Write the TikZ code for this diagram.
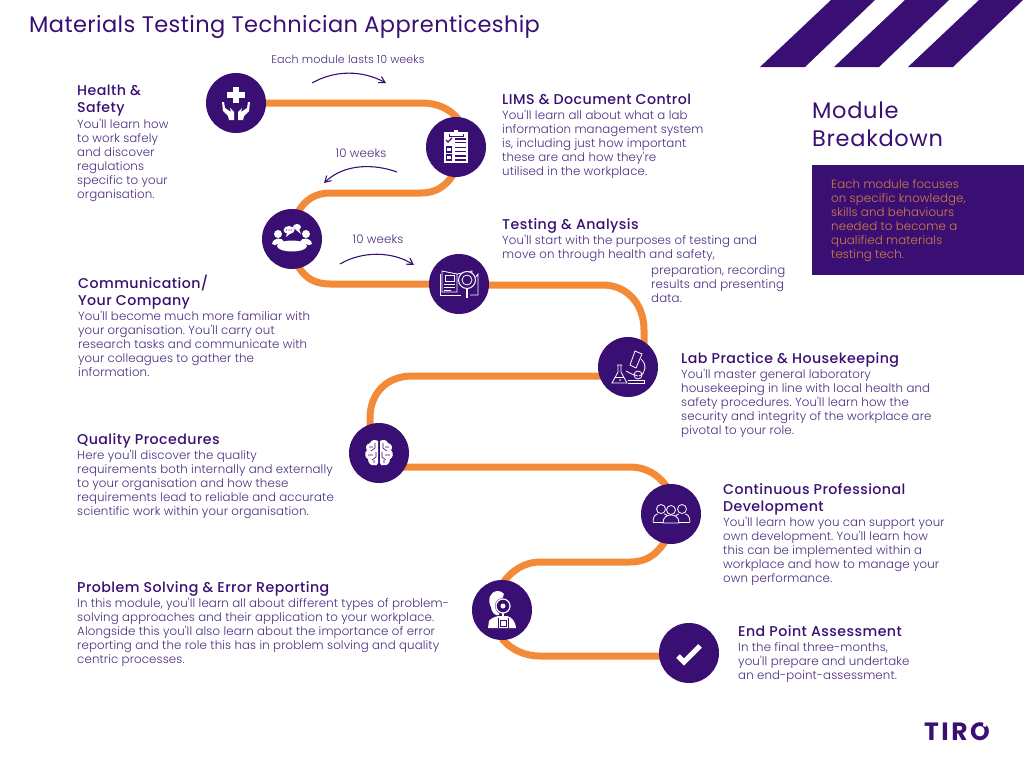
\documentclass[tikz,border=0pt]{standalone}
\usepackage{fontspec}
\setmainfont{Poppins}
\newfontfamily\headfont[LetterSpace=3]{Poppins Medium}
\newfontfamily\bodyfont[LetterSpace=1]{Poppins Light}
\newfontfamily\titlefont[LetterSpace=3]{Poppins}
\usetikzlibrary{arrows.meta,backgrounds}
\definecolor{deep}{HTML}{3A0F73}
\definecolor{soft}{HTML}{4A2A80}
\definecolor{road}{HTML}{F28A37}
\definecolor{ember}{HTML}{D07F42}
\tikzset{
  hub/.style={circle,fill=deep,minimum size=60pt,inner sep=0pt},
  roadline/.style={draw=road,line width=7pt},
  head/.style={anchor=north west,inner sep=0pt,yshift=-1.5pt,align=left,text=deep,font=\headfont\fontsize{14.2}{17}\selectfont,execute at begin node=\strut},
  blurb/.style={anchor=north west,inner sep=0pt,yshift=-1.5pt,align=left,text=soft,font=\bodyfont\frenchspacing\fontsize{11.8}{14}\selectfont,execute at begin node=\strut},
  swoosh/.style={draw=deep,line width=1.1pt,-{Straight Barb[length=6pt,width=7pt]}},
  ico/.style={draw=white,line width=.8pt,fill=none},
  icofill/.style={fill=white,draw=none},
  icocut/.style={draw=deep,line width=.9pt}
}
\begin{document}
\begin{tikzpicture}[x=1pt,y=-1pt]
  \useasboundingbox (0,0) rectangle (1024,768);

  % title and corner stripes
  \node (title) [anchor=west,inner sep=0pt,text=deep,font=\titlefont\addfontfeature{LetterSpace=1.7}\fontsize{22.5}{26}\selectfont] at (29,27) {Materials Testing Technician Apprenticeship};
  \fill[deep] (760,67) -- (831,0) -- (875,0) -- (805,67) -- cycle;
  \fill[deep] (834,67) -- (905,0) -- (949,0) -- (879,67) -- cycle;
  \fill[deep] (908,67) -- (979,0) -- (1023,0) -- (953,67) -- cycle;

  % module breakdown panel
  \node (breakdown) [anchor=north west,inner sep=0pt,align=left,text=deep,font=\titlefont\fontsize{22.5}{27.5}\selectfont] at (812,102) {Module\\Breakdown};
  \node (panel) [anchor=north west,fill=deep,minimum width=212pt,minimum height=110pt,inner sep=0pt] at (812,165) {};
  \node (paneltext) [blurb,text=ember] at (831,178) {Each module focuses\\on specific knowledge,\\skills and behaviours\\needed to become a\\qualified materials\\testing tech.};

  % hubs along the road
  \node (safety) [hub] at (236,103) {};
  \node (lims) [hub] at (456,147) {};
  \node (comms) [hub] at (292,239) {};
  \node (testing) [hub] at (459,284) {};
  \node (lab) [hub] at (628,367) {};
  \node (quality) [hub] at (379,453) {};
  \node (cpd) [hub] at (671,514) {};
  \node (problem) [hub] at (502,610) {};
  \node (finish) [hub] at (689,653) {};

  \begin{pgfonlayer}{background}
    \draw[roadline] (safety.center) -- (421,103) .. controls (438,103) and (450,109) .. (458,119) -- (lims.center);
    \draw[roadline] (lims.center) -- (453,175) .. controls (445,187) and (435,193) .. (421,193) -- (330,193) .. controls (315,193) and (305,200) .. (298,212) -- (comms.center);
    \draw[roadline] (comms.center) -- (298,266) .. controls (305,278) and (315,284) .. (330,284) -- (testing.center);
    \draw[roadline] (testing.center) -- (480,285) -- (603,285) .. controls (626,285) and (644,303) .. (644,330) -- (644,345) -- (lab.center);
    \draw[roadline] (lab.center) -- (610,376) -- (412,376) .. controls (387,376) and (370,393) .. (370,418) -- (370,428) -- (quality.center);
    \draw[roadline] (quality.center) -- (400,467) -- (630,467) .. controls (645,467) and (658,474) .. (667,487) -- (cpd.center);
    \draw[roadline] (cpd.center) -- (664,543) .. controls (655,556) and (645,562) .. (630,562) -- (540,562) .. controls (525,562) and (512,570) .. (502,584) -- (problem.center);
    \draw[roadline] (problem.center) -- (503,640) .. controls (512,650) and (525,656) .. (540,656) -- (670,656) -- (finish.center);
  \end{pgfonlayer}

  % health and safety icon
  \begin{scope}[shift={(safety.center)}]
    \fill[icofill] (-3,-16) rectangle (3,0);
    \fill[icofill] (-9,-11) rectangle (9,-5);
    \foreach \s in {-1,1} {
      \fill[icofill,xscale=\s] (-14,-1) -- (-12,-1) -- (-11,5) -- (-5,9) -- (-6,5) -- (-2,9) -- (-2,17) -- (-7,17) -- (-8,13) -- (-13,8) -- cycle;
    }
  \end{scope}
  % clipboard icon
  \begin{scope}[shift={(lims.center)}]
    \fill[icofill] (-12,-15) rectangle (12,16);
    \fill[icofill] (-2,-17) rectangle (2,-13);
    \draw[icocut] (-7,-13.5) -- (-7,-11) -- (7,-11) -- (7,-13.5);
    \fill[icofill] (-6,-15) rectangle (6,-12);
    \draw[icocut,line width=1.1pt] (-10,-7) -- (-8,-5) -- (-4,-9);
    \draw[icocut,line width=1.1pt] (-1,-8) -- (10,-8) (-1,-4.5) -- (10,-4.5);
    \draw[icocut,line width=1.1pt] (-9.5,0) rectangle (-4.5,5);
    \draw[icocut,line width=1.1pt] (-1,0.5) -- (10,0.5) (-1,4.5) -- (10,4.5);
    \draw[icocut,line width=1.1pt] (-9.5,8) rectangle (-4.5,13);
    \draw[icocut,line width=1.1pt] (-1,9) -- (10,9) (-1,13) -- (10,13);
  \end{scope}
  % meeting icon
  \begin{scope}[shift={(comms.center)}]
    \fill[icofill] (0,7) ellipse (15 and 5.5);
    \foreach \s in {-1,1} {
      \fill[icofill] (14*\s,-5) circle (4);
      \fill[icofill] (8*\s,3) .. controls (9*\s,-2) and (19*\s,-2) .. (20*\s,5) -- (17*\s,6) -- cycle;
    }
    \fill[icofill] (-3,-9) ellipse (5.5 and 4);
    \fill[icofill] (-5,-6) -- (-1,-6) -- (-6,-2) -- cycle;
    \fill[deep] (-5.5,-9) circle (.6) (-3,-9) circle (.6) (-.5,-9) circle (.6);
    \fill[icofill] (5,-12) ellipse (4 and 3) (7,-10) -- (9,-5) -- (4,-9) -- cycle;
  \end{scope}
  % open book and lens icon
  \begin{scope}[shift={(testing.center)}]
    \draw[ico] (-2,-10) -- (-2,8) -- (-17,8) -- (-17,-13) -- (-2,-10) -- (13,-13) -- (13,-8);
    \draw[ico] (-19,-10) -- (-19,11) -- (2,11);
    \draw[ico] (13,-2) -- (19,-10) -- (19,11) -- (11,11);
    \draw[ico] (-14,-9) rectangle (-5,-3);
    \draw[ico] (-15,0) -- (-4,0) (-15,3) -- (-4,3) (-15,6) -- (-8,6);
    \fill[deep] (8,-4) circle (9);
    \draw[ico,line width=1pt] (8,-4) circle (8.5);
    \draw[ico] (8,-4) circle (5);
    \draw[ico,line width=1.8pt] (8,5) -- (8,14);
  \end{scope}
  % flask and microscope icon
  \begin{scope}[shift={(lab.center)}]
    \draw[ico] (-11,-2) -- (-6,-2) (-10,-2) -- (-10,5) -- (-16,16) -- (-1,16) -- (-7,5) -- (-7,-2);
    \draw[ico] (-13,10) -- (-4,10);
    \fill[white] (-8,13) circle (.9);
    \draw[ico] (7,-16) -- (14,-13) -- (8,1) -- (2,-2) -- cycle;
    \draw[ico] (13,-8) .. controls (19,-3) and (18,7) .. (11,9);
    \draw[ico] (-2,4) .. controls (3,7) and (6,8) .. (10,9);
    \draw[ico] (10,8) circle (4);
    \draw[ico] (0,13) -- (16,13) -- (16,16) -- (0,16);
  \end{scope}
  % brain icon
  \begin{scope}[shift={(quality.center)}]
    \foreach \s in {-1,1} {
      \fill[icofill,xscale=\s] (1,-12) .. controls (4,-14) and (8,-13) .. (9,-10) .. controls (13,-9) and (14,-5) .. (12,-3) .. controls (15,0) and (14,5) .. (11,6) .. controls (11,10) and (8,13) .. (5,12) .. controls (3,13) and (1,12) .. (1,10) -- cycle;
      \draw[icocut,line width=.6pt,xscale=\s] (4,-10) -- (4,-5) -- (8,-2) (10,-6) -- (6,-6) (3,-1) -- (3,4) -- (7,7) (11,2) -- (6,2) (5,10) -- (5,7);
    }
  \end{scope}
  % three people icon
  \begin{scope}[shift={(cpd.center)}]
    \foreach \x in {-10,11} {
      \draw[ico] (\x,-5) circle (4.5);
      \draw[ico] (\x-8,8) .. controls (\x-8,2) and (\x-5,0) .. (\x-3,0) (\x+3,0) .. controls (\x+5,0) and (\x+8,2) .. (\x+8,8);
    }
    \draw[ico] (0,-4) circle (4.5);
    \draw[ico,fill=deep] (-8,9) .. controls (-8,3) and (-4,1) .. (0,1) .. controls (4,1) and (8,3) .. (8,9) -- cycle;
    \draw[ico] (-18,8) -- (-8,8) (8,8) -- (19,8);
  \end{scope}
  % woman with lens icon
  \begin{scope}[shift={(problem.center)}]
    \fill[icofill] (-4,-19) .. controls (-12,-19) and (-15,-10) .. (-11,-3) .. controls (-10,4) and (-6,6) .. (-3,5) -- (-2,-5) -- (2,-16) .. controls (1,-18) and (-2,-19) .. (-4,-19) -- cycle;
    \fill[icofill] (-14,18) -- (-13,11) .. controls (-11,8) and (-7,7) .. (-4,6) -- (5,6) .. controls (9,7) and (13,10) .. (14,18) -- cycle;
    \fill[deep] (1,-4) circle (8);
    \draw[ico,line width=1.2pt] (1,-4) circle (7);
    \fill[white] (1,-4) circle (2.5);
    \draw[ico,line width=1.2pt] (1,3) -- (1,11);
    \draw[icocut] (-4,8) -- (-4,18) (6,8) -- (6,18);
    \draw[icocut] (-2,10) -- (4,10) -- (4,16) -- (-2,16) -- cycle;
  \end{scope}
  % tick icon
  \begin{scope}[shift={(finish.center)}]
    \draw[white,line width=5pt] (-11,3) -- (-5,9) -- (11,-7);
  \end{scope}

  % duration labels and their arrows
  \node (lastlabel) [blurb,anchor=center,execute at begin node={},font=\bodyfont\fontsize{11.1}{14}\selectfont] at (348,59) {Each module lasts 10 weeks};
  \coordinate (lastfrom) at (312,83);
  \coordinate (lastto) at (386,83);
  \draw[swoosh] (lastfrom) .. controls (335,70) and (362,70) .. (lastto);
  \node (weeksone) [blurb,anchor=center,execute at begin node={}] at (361,153) {10 weeks};
  \coordinate (onefrom) at (397,172);
  \coordinate (oneto) at (324,183);
  \draw[swoosh] (onefrom) .. controls (375,164) and (345,163) .. (oneto);
  \node (weekstwo) [blurb,anchor=center,execute at begin node={}] at (378,239) {10 weeks};
  \coordinate (twofrom) at (340,264);
  \coordinate (twoto) at (414,265);
  \draw[swoosh] (twofrom) .. controls (362,251) and (392,251) .. (twoto);

  % module texts
  \node (safetyhead) [head] at (77,83) {Health \&\\Safety};
  \node (safetytext) [blurb] at (77,117) {You'll learn how\\to work safely\\and discover\\regulations\\specific to your\\organisation.};
  \node (limshead) [head] at (502,90.5) {LIMS \& Document Control};
  \node (limstext) [blurb] at (502,108) {You'll learn all about what a lab\\information management system\\is, including just how important\\these are and how they're\\utilised in the workplace.};
  \node (testinghead) [head] at (502,215.5) {Testing \& Analysis};
  \node (testingtext) [blurb] at (502,233) {You'll start with the purposes of testing and\\move on through health and safety,};
  \node (testingmore) [blurb] at (651,264) {preparation, recording\\results and presenting\\data.};
  \node (commshead) [head] at (78,273) {Communication/\\Your Company};
  \node (commstext) [blurb] at (78,309) {You'll become much more familiar with\\your organisation. You'll carry out\\research tasks and communicate with\\your colleagues to gather the\\information.};
  \node (labhead) [head] at (681,349.5) {Lab Practice \& Housekeeping};
  \node (labtext) [blurb] at (681,367) {You'll master general laboratory\\housekeeping in line with local health and\\safety procedures. You'll learn how the\\security and integrity of the workplace are\\pivotal to your role.};
  \node (qualityhead) [head] at (77,430.5) {Quality Procedures};
  \node (qualitytext) [blurb] at (77,448) {Here you'll discover the quality\\requirements both internally and externally\\to your organisation and how these\\requirements lead to reliable and accurate\\scientific work within your organisation.};
  \node (cpdhead) [head] at (723,481.5) {Continuous Professional\\Development};
  \node (cpdtext) [blurb] at (723,515) {You'll learn how you can support your\\own development. You'll learn how\\this can be implemented within a\\workplace and how to manage your\\own performance.};
  \node (problemhead) [head] at (77,578.5) {Problem Solving \& Error Reporting};
  \node (problemtext) [blurb] at (77,596) {In this module, you'll learn all about different types of problem-\\solving approaches and their application to your workplace.\\Alongside this you'll also learn about the importance of error\\reporting and the role this has in problem solving and quality\\centric processes.};
  \node (finishhead) [head] at (738,622.5) {End Point Assessment};
  \node (finishtext) [blurb] at (738,641) {In the final three-months,\\you'll prepare and undertake\\an end-point-assessment.};

  % logo
  \node (logo) [anchor=center,inner sep=0pt,text=deep,font=\titlefont\addfontfeature{LetterSpace=10}\fontsize{25}{25}\selectfont\bfseries] at (957,732) {TIRO};
  \fill[white] (984,720) -- (988,720) -- (986,727) -- (983,726) -- cycle;
\end{tikzpicture}
\end{document}
